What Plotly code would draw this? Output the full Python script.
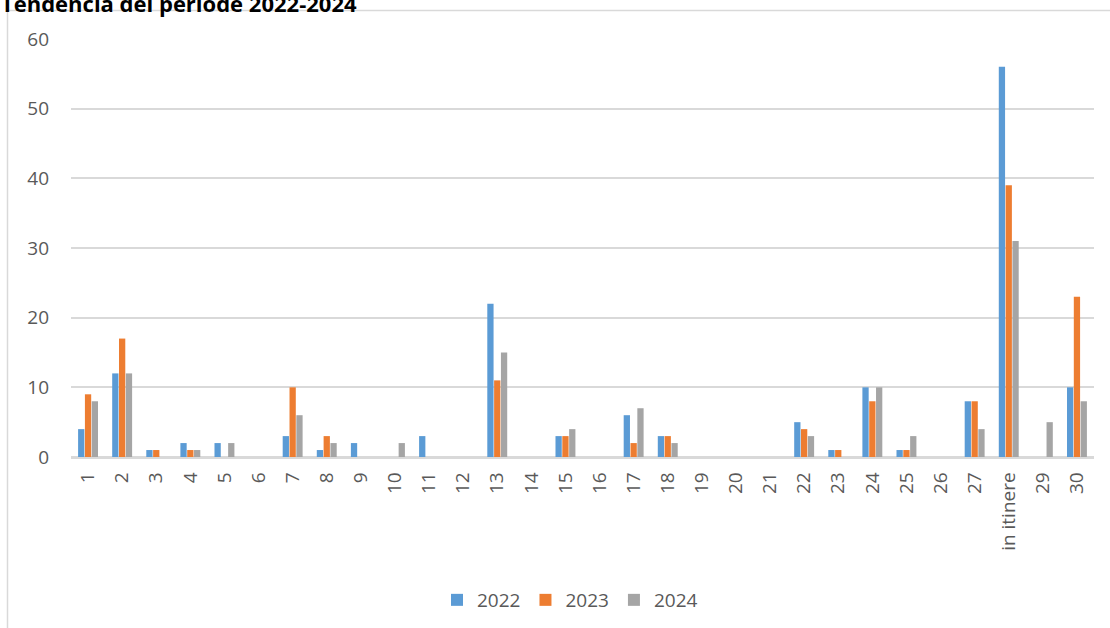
import plotly.graph_objects as go

categories = ["1", "2", "3", "4", "5", "6", "7", "8", "9", "10", "11", "12", "13", "14", "15",
              "16", "17", "18", "19", "20", "21", "22", "23", "24", "25", "26", "27", "in itinere", "29", "30"]
v2022 = [4, 12, 1, 2, 2, 0, 3, 1, 2, 0, 3, 0, 22, 0, 3, 0, 6, 3, 0, 0, 0, 5, 1, 10, 1, 0, 8, 56, 0, 10]
v2023 = [9, 17, 1, 1, 0, 0, 10, 3, 0, 0, 0, 0, 11, 0, 3, 0, 2, 3, 0, 0, 0, 4, 1, 8, 1, 0, 8, 39, 0, 23]
v2024 = [8, 12, 0, 1, 2, 0, 6, 2, 0, 2, 0, 0, 15, 0, 4, 0, 7, 2, 0, 0, 0, 3, 0, 10, 3, 0, 4, 31, 5, 8]
series_names = ["2022", "2023", "2024"]
colors = ["#5B9BD5", "#ED7D31", "#A5A5A5"]
title_text = "Tendencia del periode 2022-2024"

W, H = 1110, 628
L, R, T, B = 71, 1094, 39, 457

def px(x):
    return (x - L) / (R - L)

def py(y):
    return (B - y) / (B - T)

fig = go.Figure()
for name, vals, col in zip(series_names, [v2022, v2023, v2024], colors):
    fig.add_trace(go.Bar(x=categories, y=vals, name=name, marker_color=col,
                         marker_line_width=0, showlegend=False, legendgroup=name))
# legend entries with square swatches
for name, col in zip(series_names, colors):
    fig.add_trace(go.Scatter(x=[None], y=[None], mode="markers", name=name, legendgroup=name,
                             marker=dict(symbol="square", size=12, color=col), showlegend=True))

font_family = "Open Sans, Liberation Sans, sans-serif"
fig.update_layout(
    width=W, height=H,
    margin=dict(l=L, r=W - R, t=T, b=H - B, autoexpand=False),
    paper_bgcolor="white", plot_bgcolor="white",
    barmode="group", bargap=0.40, bargroupgap=0.08,
    font=dict(family=font_family, color="#595959", size=18),
    showlegend=True,
    legend=dict(orientation="h", x=px(570), xanchor="center", y=py(600), yanchor="middle",
                font=dict(size=19, color="#595959"), itemwidth=30, traceorder="normal",
                bgcolor="rgba(0,0,0,0)"),
    xaxis=dict(type="category", tickangle=-90, showgrid=False, showline=True,
               linecolor="#d9d9d9", linewidth=1.5, ticks="", tickfont=dict(size=19, color="#595959"),
               ticklabelstandoff=6, automargin=False),
    yaxis=dict(range=[0, 60], dtick=10, showgrid=True, gridcolor="#d9d9d9", gridwidth=1.5,
               zeroline=True, zerolinecolor="#d9d9d9", zerolinewidth=1.5,
               showline=False, ticks="", tickfont=dict(size=19, color="#595959"),
               ticklabelstandoff=21, automargin=False),
)

# outer chart border (light gray)
fig.add_shape(type="rect", xref="paper", yref="paper",
              x0=px(7.5), x1=px(1120), y0=py(10.5), y1=py(640),
              line=dict(color="#d9d9d9", width=1.5), fillcolor="rgba(0,0,0,0)", layer="below")

fig.add_annotation(text="<b>" + title_text + "</b>", xref="paper", yref="paper",
                   x=px(-1), xanchor="left", y=py(3), yanchor="middle", showarrow=False,
                   font=dict(size=22, color="#000000", family=font_family))

fig.write_html("out.html", config={"displayModeBar": False},
               post_script="document.body.style.margin='0';document.body.style.overflow='hidden';")
